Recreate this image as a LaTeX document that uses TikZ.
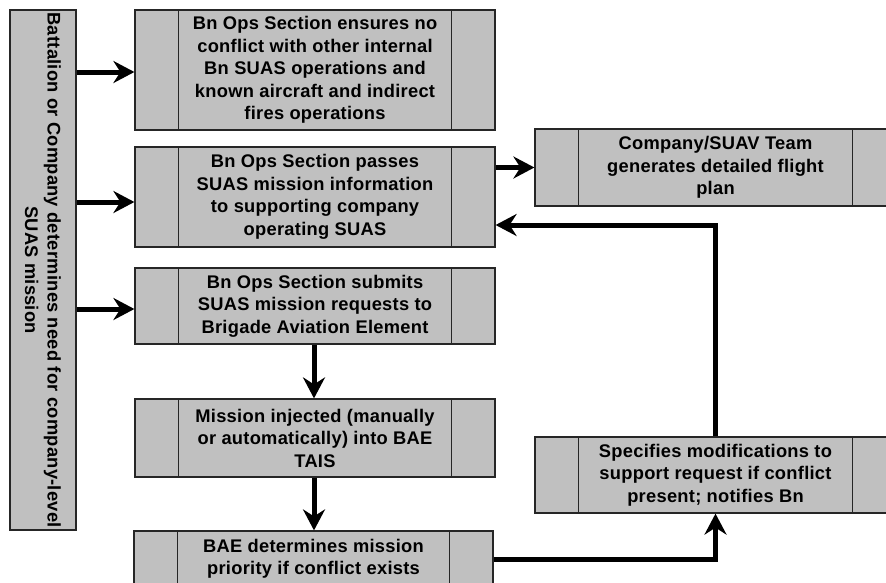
\documentclass[tikz,border=0pt]{standalone}
\usepackage{fontspec}
\newfontfamily\lab[LetterSpace=1.5]{Liberation Sans}
\usetikzlibrary{arrows.meta}
\definecolor{boxgray}{HTML}{C0C0C0}
\begin{document}
\begin{tikzpicture}[x=1pt,y=-1pt,
  procbox/.style={draw=black!85, line width=1.2pt, fill=boxgray, inner sep=0pt,
    align=center, font=\lab\bfseries\fontsize{18.3}{22.5}\selectfont},
  lbl/.style={inner sep=0pt, align=center, font=\lab\bfseries\fontsize{18.3}{22.5}\selectfont},
  flow/.style={line width=5pt, -{Stealth[length=21pt,width=22pt,inset=7pt]}}]
\useasboundingbox (0,0) rectangle (886,582);
\begin{scope}
\clip (0,0) rectangle (886,582);
\node[procbox, minimum width=66pt, minimum height=520pt] (L) at (43,270) {};
\node[lbl, rotate=-90] (Lt) at (L.center) {Battalion or Company determines need for company-level\\SUAS mission};

\node[procbox, minimum width=360pt, minimum height=120pt] (b1) at (315,70)
  {Bn Ops Section ensures no\\conflict with other internal\\Bn SUAS operations and\\known aircraft and indirect\\fires operations};
\node[procbox, minimum width=360pt, minimum height=100pt] (b2) at (315,197)
  {Bn Ops Section passes\\SUAS mission information\\to supporting company\\operating SUAS};
\node[procbox, minimum width=360pt, minimum height=76pt] (b3) at (315,306)
  {Bn Ops Section submits\\SUAS mission requests to\\Brigade Aviation Element};
\node[procbox, minimum width=360pt, minimum height=78pt] (b4) at (315,438)
  {Mission injected (manually\\or automatically) into BAE\\TAIS};
\node[procbox, minimum width=359pt, minimum height=56pt] (b5) at (313.5,559)
  {BAE determines mission\\priority if conflict exists};
\node[procbox, minimum width=361pt, minimum height=77pt] (c1) at (715.5,167.5)
  {Company/SUAV Team\\generates detailed flight\\plan};
\node[procbox, minimum width=361pt, minimum height=76pt] (s1) at (715.5,475)
  {Specifies modifications to\\support request if conflict\\present; notifies Bn};

\foreach \n in {b1,b2,b3,b4,b5,c1,s1}{
  \draw[black!85, line width=1.2pt] ([xshift=44pt]\n.north west) -- ([xshift=44pt]\n.south west);
  \draw[black!85, line width=1.2pt] ([xshift=-44pt]\n.north east) -- ([xshift=-44pt]\n.south east);
}

\draw[flow] ([yshift=-2pt]L.east |- b1.west) -- ([yshift=-2pt]b1.west);
\draw[flow] ([yshift=-5pt]L.east |- b2.west) -- ([yshift=-5pt]b2.west);
\draw[flow] ([yshift=-3pt]L.east |- b3.west) -- ([yshift=-3pt]b3.west);
\draw[flow] (b2.east |- c1.west) -- (c1.west);
\draw[flow] (s1.north) |- ([yshift=-28pt]b2.east);
\draw[flow] ([xshift=-1pt]b3.south) -- ([xshift=-1pt]b3.south |- b4.north);
\draw[flow] ([xshift=-1pt]b4.south) -- ([xshift=-1pt]b4.south |- b5.north);
\draw[flow] (b5.east) -| (s1.south);
\end{scope}
\end{tikzpicture}
\end{document}
